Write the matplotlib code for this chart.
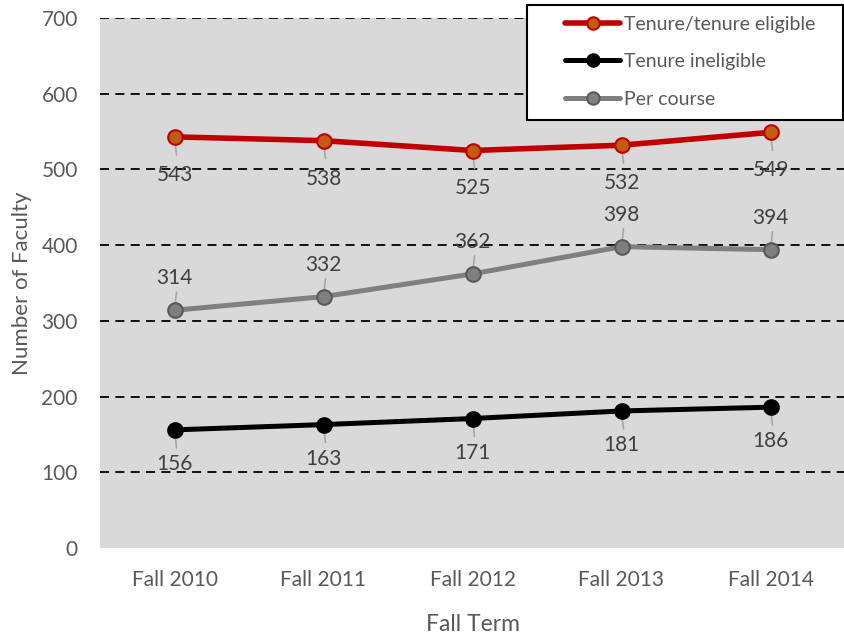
import matplotlib.pyplot as plt
from matplotlib.patches import Rectangle

plt.rcParams['font.family'] = ['Lato', 'DejaVu Sans']

terms = ["Fall 2010", "Fall 2011", "Fall 2012", "Fall 2013", "Fall 2014"]
tenure = [543, 538, 525, 532, 549]
ineligible = [156, 163, 171, 181, 186]
per_course = [314, 332, 362, 398, 394]
yticks = [0, 100, 200, 300, 400, 500, 600, 700]

W, H = 844, 636
fig = plt.figure(figsize=(W / 100, H / 100), dpi=100)
ax = fig.add_axes([100 / W, 88 / H, 745 / W, 530 / H])
ax.set_facecolor("#D9D9D9")

x = list(range(len(terms)))

series = [
    ("Tenure/tenure eligible", tenure, "#C00000", "#C55A11", "#C00000", -38, 4.0),
    ("Tenure ineligible", ineligible, "#000000", "#000000", "#000000", -34, 3.6),
    ("Per course", per_course, "#808080", "#7F7F7F", "#595959", 32, 3.6),
]

for name, vals, lc, mfc, mec, dy, lw in series:
    ax.plot(x, vals, color=lc, lw=lw, marker="o", ms=10.5, mfc=mfc, mec=mec,
            mew=1.5, label=name, zorder=4, solid_capstyle="round")
    for xi, v in zip(x, vals):
        ax.annotate(str(v), (xi, v), xytext=(0, dy), textcoords="offset pixels",
                    ha="center", va="center", fontsize=15, color="#404040", zorder=5)
        # short leader line from the point toward its label
        sgn = 1 if dy > 0 else -1
        ax.annotate("", (xi, v), xytext=(2, sgn * 18), textcoords="offset pixels",
                    arrowprops=dict(arrowstyle="-", color="#A6A6A6", lw=1.2,
                                    shrinkA=0, shrinkB=0), zorder=3)

ax.set_xlim(-0.5, 4.5)
ax.set_ylim(0, 700)
ax.set_yticks(yticks)
ax.set_xticks(x)
ax.set_xticklabels(terms)
ax.tick_params(length=0, labelsize=15, labelcolor="#595959")
ax.tick_params(axis="y", pad=16)
ax.tick_params(axis="x", pad=16)
for s in ax.spines.values():
    s.set_visible(False)
ax.set_axisbelow(True)
ax.yaxis.grid(True, color="black", ls=(0, (5, 3.5)), lw=1.3)
ax.get_ygridlines()[0].set_visible(False)

ax.set_ylabel("Number of Faculty", fontsize=16, color="#595959", labelpad=7)
ax.set_xlabel("Fall Term", fontsize=16.5, color="#595959", labelpad=17)

# legend box drawn as its own rectangle, legend entries placed inside it
box = Rectangle((527 / W, 1 - 120 / H), 316 / W, 115 / H,
                transform=fig.transFigure, facecolor="white",
                edgecolor="black", lw=1.5, zorder=9, clip_on=False)
ax.add_patch(box)
leg = ax.legend(loc="upper left", bbox_to_anchor=(559 / W, 1 - 10 / H),
                bbox_transform=fig.transFigure, frameon=False,
                fontsize=14, labelcolor="#595959", handlelength=2.85,
                handletextpad=0.2, labelspacing=1.05, borderpad=0.3,
                borderaxespad=0, markerscale=0.85)
leg.set_zorder(10)

fig.savefig("out.png", dpi=100)
